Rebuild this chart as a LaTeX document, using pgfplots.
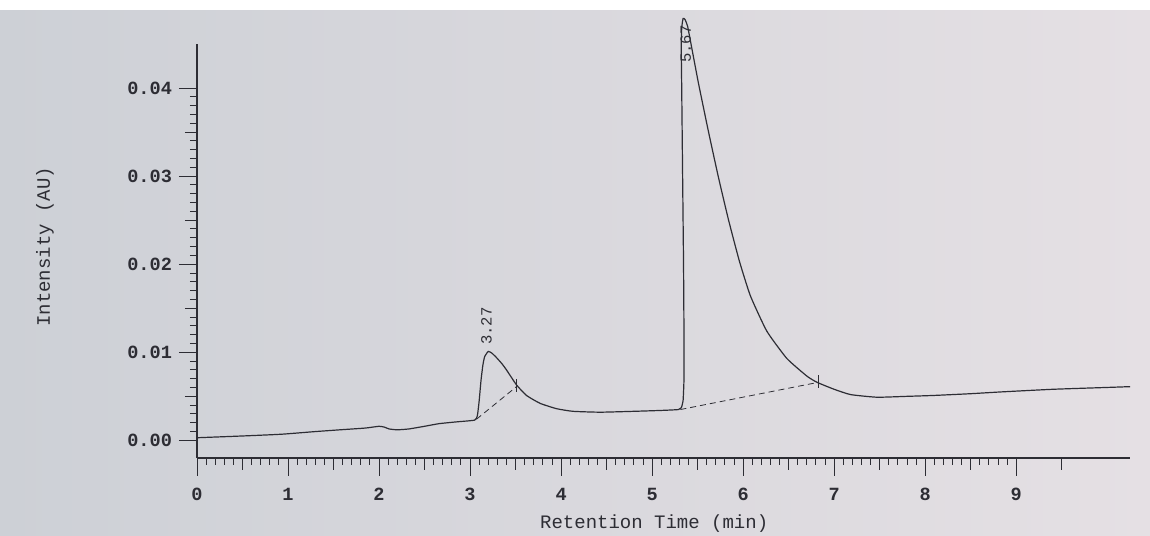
\documentclass[border=0pt]{standalone}
\usepackage{fontspec}
\setmainfont{Liberation Mono}
\usepackage{pgfplots}
\pgfplotsset{compat=1.18}
\definecolor{ink}{RGB}{45,45,52}
\definecolor{bgL}{RGB}{205,208,214}
\definecolor{bgR}{RGB}{229,224,228}
\begin{document}
\begin{tikzpicture}[x=1pt,y=1pt]
\shade[left color=bgL, right color=bgR] (0,0) rectangle (575,262.5);
\fill[white] (0,262.5) rectangle (575,267.5);
\begin{axis}[
  at={(98.5pt,38.5pt)}, anchor=south west,
  scale only axis, width=466.5pt, height=207pt,
  xmin=0, xmax=10.25, ymin=-0.002, ymax=0.045,
  axis lines*=left,
  axis line style={ink, line width=0.6pt},
  tick align=outside,
  major tick length=9pt, minor tick length=3.5pt,
  tick style={ink, line width=0.5pt},
  xtick={0,1,2,3,4,5,6,7,8,9}, minor x tick num=9,
  ytick={0,0.01,0.02,0.03,0.04}, minor y tick num=9,
  extra x ticks={0.5,1.5,2.5,3.5,4.5,5.5,6.5,7.5,8.5,9.5},
  extra x tick labels={},
  extra x tick style={major tick length=6pt},
  extra y ticks={0.005,0.015,0.025,0.035},
  extra y tick labels={},
  extra y tick style={major tick length=6pt},
  scaled y ticks=false,
  yticklabel style={/pgf/number format/.cd, fixed, fixed zerofill, precision=2},
  /pgf/number format/assume math mode=true,
  ticklabel style={font=\fontsize{9.3}{11}\selectfont\bfseries, text=ink},
  xticklabel style={yshift=-2.5pt},
  clip=false,
  xlabel={Retention Time (min)}, ylabel={Intensity (AU)},
  label style={font=\fontsize{9.5}{11}\selectfont, text=ink},
  xlabel style={at={(axis description cs:0.49,0)}, anchor=center, yshift=-33pt},
  ylabel style={at={(axis description cs:-0.163,0.51)}, anchor=center},
]
\addplot[ink, line width=0.6pt, smooth, tension=0.3] coordinates {
(0.00,0.0003) (0.50,0.0005) (0.93,0.0007) (1.30,0.0010) (1.57,0.0012)
(1.85,0.0014) (2.00,0.0016) (2.06,0.0015) (2.11,0.0013) (2.20,0.0012)
(2.33,0.0013) (2.50,0.0016) (2.66,0.0019) (2.85,0.0021) (3.05,0.0023)
(3.08,0.0028) (3.10,0.0045) (3.12,0.0068) (3.14,0.0085) (3.16,0.0095)
(3.20,0.0101) (3.24,0.0099) (3.29,0.0094) (3.35,0.0087) (3.40,0.0080)
(3.51,0.0063) (3.62,0.0051) (3.77,0.0042) (3.95,0.0036) (4.13,0.0033)
(4.43,0.0032) (4.80,0.0033) (5.10,0.0034) (5.29,0.0035) (5.32,0.0037)
(5.34,0.0045) (5.35,0.0070) (5.35,0.0120) (5.345,0.0200) (5.335,0.0300)
(5.325,0.0400) (5.32,0.0445) (5.325,0.0468) (5.34,0.0479) (5.36,0.0478)
(5.39,0.0470) (5.44,0.0443) (5.51,0.0405) (5.62,0.0350) (5.73,0.0298)
(5.84,0.0250) (5.96,0.0203) (6.08,0.0164) (6.26,0.0124) (6.48,0.0093)
(6.70,0.0073) (6.81,0.0066) (7.00,0.0058) (7.18,0.0052) (7.47,0.0049)
(7.80,0.0050) (8.09,0.0051) (8.50,0.0053) (8.83,0.0055) (9.40,0.0058)
(9.97,0.0060) (10.25,0.0061)
};
\addplot[ink, densely dashed, line width=0.4pt] coordinates {(3.07,0.0024) (3.51,0.0061)};
\addplot[ink, line width=0.4pt] coordinates {(3.51,0.0055) (3.51,0.0070)};
\addplot[ink, densely dashed, line width=0.4pt] coordinates {(5.31,0.0035) (6.83,0.0066)};
\addplot[ink, line width=0.4pt] coordinates {(6.83,0.0060) (6.83,0.0074)};
\node[rotate=90, anchor=west, inner sep=0pt, font=\fontsize{7.8}{9}\selectfont, text=ink] at (axis cs:3.18,0.0108) {3.27};
\node[rotate=90, anchor=west, inner sep=0pt, font=\fontsize{7.8}{9}\selectfont, text=ink] at (axis cs:5.37,0.0428) {5.67};
\end{axis}
\pgfresetboundingbox
\useasboundingbox (0,0) rectangle (575,267.5);
\end{tikzpicture}
\end{document}
